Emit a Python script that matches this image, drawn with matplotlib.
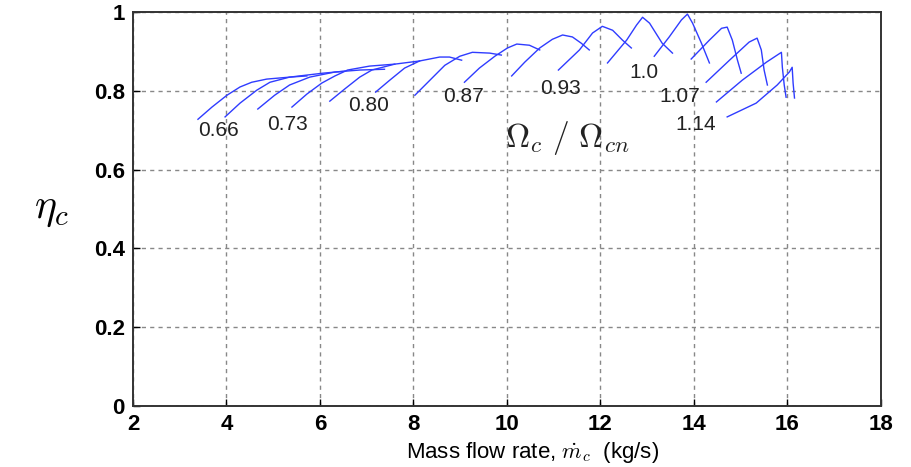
import numpy as np
import matplotlib
matplotlib.use("Agg")
import matplotlib.pyplot as plt

plt.rcParams['font.family'] = ['Liberation Sans', 'DejaVu Sans']
plt.rcParams['mathtext.fontset'] = 'cm'

# 各转速线 (质量流量 kg/s, 效率)
c01_x = [3.39, 3.69, 4.01, 4.29, 4.54, 4.86, 5.35, 5.72]
c01_y = [0.728, 0.759, 0.789, 0.810, 0.822, 0.830, 0.835, 0.838]
c02_x = [3.97, 4.29, 4.65, 4.93, 5.35, 6.06, 6.53]
c02_y = [0.734, 0.769, 0.802, 0.822, 0.835, 0.845, 0.850]
c03_x = [4.67, 5.03, 5.35, 5.78, 6.32, 6.85, 7.38]
c03_y = [0.754, 0.789, 0.815, 0.835, 0.848, 0.853, 0.855]
c04_x = [5.40, 5.72, 6.04, 6.32, 6.59, 7.06, 7.60]
c04_y = [0.759, 0.792, 0.820, 0.838, 0.853, 0.863, 0.868]
c05_x = [6.21, 6.53, 6.85, 7.11, 7.60, 8.13]
c05_y = [0.774, 0.805, 0.835, 0.853, 0.868, 0.876]
c06_x = [7.19, 7.49, 7.81, 8.13, 8.56, 8.77, 9.03]
c06_y = [0.797, 0.827, 0.858, 0.876, 0.886, 0.886, 0.878]
c07_x = [8.03, 8.35, 8.67, 8.99, 9.26, 9.63, 9.88]
c07_y = [0.789, 0.827, 0.865, 0.888, 0.898, 0.896, 0.891]
c08_x = [9.09, 9.41, 9.74, 10.01, 10.21, 10.48, 10.70]
c08_y = [0.822, 0.858, 0.888, 0.909, 0.919, 0.916, 0.904]
c09_x = [10.10, 10.38, 10.70, 10.97, 11.19, 11.40, 11.59, 11.76]
c09_y = [0.838, 0.873, 0.909, 0.931, 0.942, 0.937, 0.921, 0.904]
c10_x = [11.10, 11.55, 11.83, 12.04, 12.26, 12.47, 12.66]
c10_y = [0.853, 0.904, 0.947, 0.964, 0.954, 0.929, 0.909]
c11_x = [12.15, 12.56, 12.77, 12.90, 13.05, 13.32, 13.54]
c11_y = [0.871, 0.929, 0.967, 0.987, 0.972, 0.921, 0.896]
c12_x = [13.15, 13.47, 13.73, 13.86, 13.97, 14.16, 14.33]
c12_y = [0.888, 0.937, 0.980, 0.995, 0.972, 0.921, 0.871]
c13_x = [13.94, 14.33, 14.59, 14.71, 14.82, 14.93, 15.01]
c13_y = [0.881, 0.929, 0.959, 0.962, 0.929, 0.878, 0.845]
c14_x = [14.26, 14.76, 15.18, 15.35, 15.44, 15.50, 15.57]
c14_y = [0.822, 0.878, 0.924, 0.934, 0.904, 0.853, 0.815]
c15_x = [14.48, 15.03, 15.55, 15.87, 15.89, 15.93, 15.97]
c15_y = [0.772, 0.827, 0.873, 0.898, 0.860, 0.815, 0.784]
c16_x = [14.71, 15.33, 15.78, 16.04, 16.10, 16.12, 16.15]
c16_y = [0.734, 0.769, 0.815, 0.848, 0.860, 0.820, 0.782]

curves_x = [c01_x, c02_x, c03_x, c04_x, c05_x, c06_x, c07_x, c08_x,
            c09_x, c10_x, c11_x, c12_x, c13_x, c14_x, c15_x, c16_x]
curves_y = [c01_y, c02_y, c03_y, c04_y, c05_y, c06_y, c07_y, c08_y,
            c09_y, c10_y, c11_y, c12_y, c13_y, c14_y, c15_y, c16_y]

# 转速比标注
speed_labels = ['0.66', '0.73', '0.80', '0.87', '0.93', '1.0', '1.07', '1.14']
label_x = [3.84, 5.31, 7.04, 9.07, 11.15, 12.94, 13.69, 14.03]
label_y = [0.700, 0.716, 0.764, 0.787, 0.807, 0.848, 0.787, 0.716]

fig = plt.figure(figsize=(9.12, 4.67), dpi=100)
ax = fig.add_axes([0.1458, 0.1306, 0.8202, 0.8434])

for xs, ys in zip(curves_x, curves_y):
    ax.plot(xs, ys, color='#2f3cff', lw=1.0, solid_joinstyle='round')

for t, x, y in zip(speed_labels, label_x, label_y):
    ax.text(x, y, t, fontsize=15, color='#222222', ha='center', va='center')

ax.text(11.29, 0.680, r'$\Omega_c\ /\ \Omega_{cn}$', fontsize=24,
        color='#222222', ha='center', va='center')

ax.set_xlim(2, 18)
ax.set_ylim(0, 1)
ax.set_xticks(np.arange(2, 19, 2))
ax.set_yticks([0, 0.2, 0.4, 0.6, 0.8, 1])
ax.set_yticklabels(['0', '0.2', '0.4', '0.6', '0.8', '1'])
ax.grid(True, color='#888888', linestyle=(0, (3, 3)), lw=1.0)
ax.tick_params(direction='in', length=5, width=1.0, labelsize=16, pad=6)
for lab in ax.get_xticklabels() + ax.get_yticklabels():
    lab.set_fontweight('bold')
for sp in ax.spines.values():
    sp.set_color('#333333')
    sp.set_linewidth(1.4)

ax.set_xlabel(r'Mass flow rate, $\dot{m}_c$  (kg/s)', fontsize=16)
ax.xaxis.set_label_coords(0.534, -0.086)
ax.set_ylabel(r'$\eta_c$', fontsize=30, rotation=0, labelpad=30, va='center')

fig.savefig('out.png', dpi=100)
